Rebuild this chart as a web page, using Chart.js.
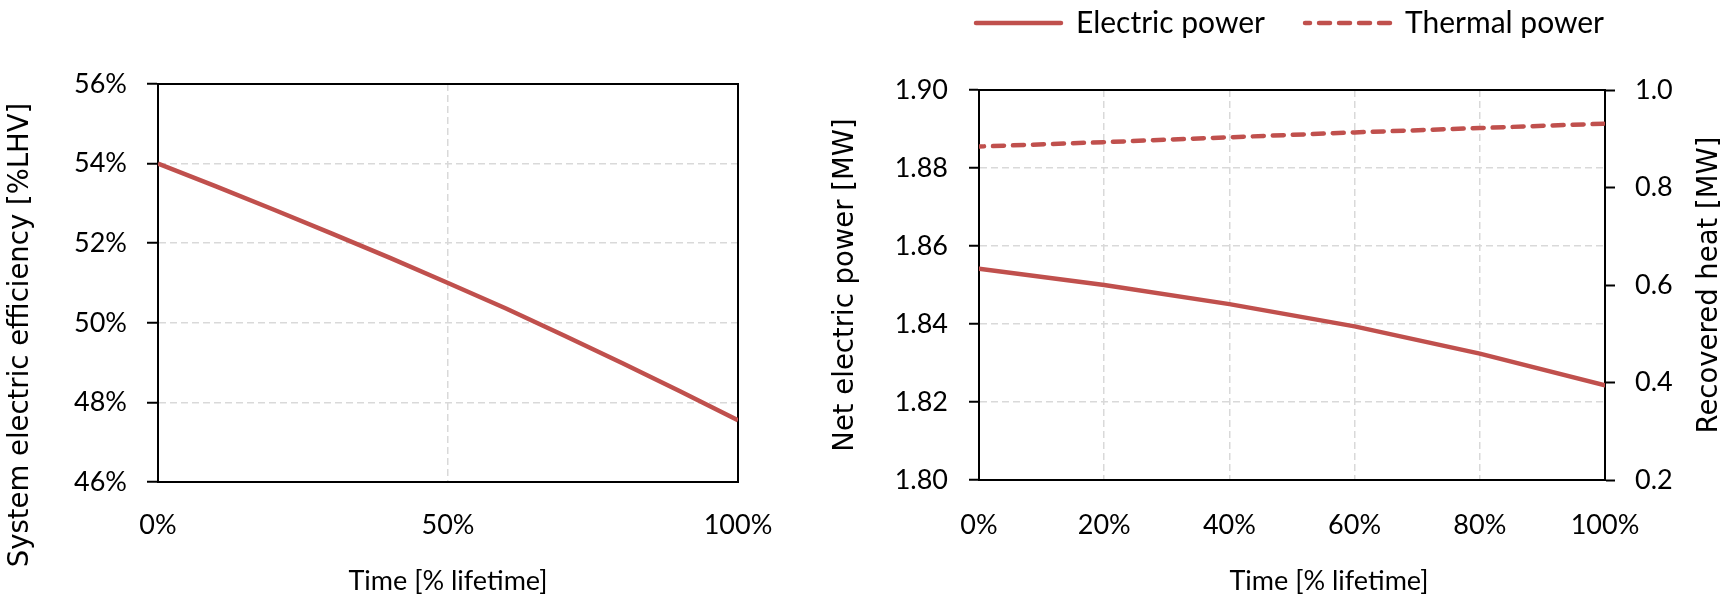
<!DOCTYPE html>
<html>
<head>
<meta charset="utf-8">
<script src="https://cdn.jsdelivr.net/npm/chart.js@4.4.0/dist/chart.umd.min.js"></script>
<style>
html, body { margin: 0; padding: 0; background: #fff; overflow: hidden; width: 1728px; height: 597px; }
#leftChart { position: absolute; left: 0; top: 0; }
#rightChart { position: absolute; left: 800px; top: 0; }
</style>
</head>
<body>
<canvas id="leftChart" width="800" height="597"></canvas>
<canvas id="rightChart" width="980" height="597"></canvas>
<script>
// left chart: efficiency over lifetime
var lifetimeLeft = [0, 10, 20, 30, 40, 50, 60, 70, 80, 90, 100];
var efficiency = [54.0, 53.43, 52.84, 52.24, 51.63, 51.0, 50.36, 49.68, 48.99, 48.28, 47.55];
var effTicks = [46, 48, 50, 52, 54, 56];
var leftTimeTicks = [0, 50, 100];

// right chart: power over lifetime
var lifetimeRight = [0, 20, 40, 60, 80, 100];
var electricPower = [1.8542, 1.8500, 1.8451, 1.8394, 1.8324, 1.8243];
var thermalPower = [0.884, 0.893, 0.903, 0.913, 0.922, 0.931];
var powerTicks = [1.80, 1.82, 1.84, 1.86, 1.88, 1.90];
var heatTicks = [0.2, 0.4, 0.6, 0.8, 1.0];
var rightTimeTicks = [0, 20, 40, 60, 80, 100];
var seriesNames = ['Electric power', 'Thermal power'];

var red = '#C0504D';
var gridColor = '#d9d9d9';
var tickFont = { family: 'Lato', size: 27 };
var legendFont = { family: 'Lato', size: 30 };
var titleFont = { family: 'DejaVu Sans', size: 27.5 };
Chart.defaults.color = '#000';

function useTicks(list) {
  return function (s) { s.ticks = list.map(function (v) { return { value: v }; }); };
}
function points(xs, ys) {
  return xs.map(function (x, i) { return { x: x, y: ys[i] }; });
}

var frame = {
  id: 'frame',
  beforeDatasetsDraw: function (chart) {
    var a = chart.chartArea, ctx = chart.ctx;
    ctx.save();
    ctx.strokeStyle = '#000';
    ctx.lineWidth = 2;
    ctx.strokeRect(a.left, a.top, a.right - a.left, a.bottom - a.top);
    ctx.restore();
  }
};

// rotated titles read bottom to top on both sides, as in the source
function sideTitle(ctx, text, x, y) {
  ctx.save();
  ctx.translate(x, y);
  ctx.rotate(-Math.PI / 2);
  ctx.font = '27.5px "DejaVu Sans"';
  ctx.fillStyle = '#000';
  ctx.textAlign = 'center';
  ctx.textBaseline = 'middle';
  ctx.fillText(text, 0, 0);
  ctx.restore();
}

var leftYTitle = {
  id: 'leftYTitle',
  afterDraw: function (chart) {
    var a = chart.chartArea;
    sideTitle(chart.ctx, 'System electric efficiency [%LHV]', 20.5, (a.top + a.bottom) / 2 + 52);
  }
};

new Chart(document.getElementById('leftChart'), {
  type: 'line',
  data: {
    datasets: [{
      data: points(lifetimeLeft, efficiency),
      borderColor: red,
      borderWidth: 4.5,
      pointRadius: 0,
      fill: false
    }]
  },
  options: {
    responsive: false,
    animation: false,
    layout: { padding: { left: 0, right: 62, top: 84, bottom: 0 } },
    plugins: { legend: { display: false }, tooltip: { enabled: false } },
    scales: {
      x: {
        type: 'linear', min: 0, max: 100,
        afterBuildTicks: useTicks(leftTimeTicks),
        grid: { color: gridColor, lineWidth: 1.5, drawTicks: false },
        border: { color: '#000', width: 2, dash: [7, 4] },
        ticks: { font: tickFont, padding: 27, callback: function (v) { return v + '%'; } },
        title: { display: true, text: 'Time [% lifetime]', font: tickFont, padding: { top: 0, bottom: 0 } },
        afterFit: function (s) { s.height = 115; }
      },
      y: {
        min: 46, max: 56,
        afterBuildTicks: useTicks(effTicks),
        grid: { color: gridColor, lineWidth: 1.5, tickLength: 11, tickColor: '#000', tickWidth: 2 },
        border: { color: '#000', width: 2, dash: [7, 4] },
        ticks: { font: tickFont, padding: 20, callback: function (v) { return v + '%'; } },
        afterFit: function (s) { s.width = 158; }
      }
    }
  },
  plugins: [frame, leftYTitle]
});

var padTop = -32;
var rightTitles = {
  id: 'rightTitles',
  afterDraw: function (chart) {
    var a = chart.chartArea, ctx = chart.ctx;
    ctx.save();
    ctx.font = '27px Lato';
    ctx.fillStyle = '#000';
    ctx.textAlign = 'center';
    ctx.textBaseline = 'middle';
    ctx.fillText('Time [% lifetime]', (a.left + a.right) / 2 + 37, chart.height - 16.2);
    ctx.restore();
    sideTitle(ctx, 'Recovered heat [MW]', a.right + 105, (a.top + a.bottom) / 2);
  }
};

new Chart(document.getElementById('rightChart'), {
  type: 'line',
  data: {
    datasets: [{
      label: seriesNames[0],
      data: points(lifetimeRight, electricPower),
      yAxisID: 'y',
      borderColor: red,
      backgroundColor: red,
      borderWidth: 4.5,
      borderCapStyle: 'round',
      pointRadius: 0,
      fill: false
    }, {
      label: seriesNames[1],
      data: points(lifetimeRight, thermalPower),
      yAxisID: 'y1',
      borderColor: red,
      backgroundColor: red,
      borderWidth: 4.5,
      borderDash: [11, 9],
      borderDashOffset: 6,
      borderCapStyle: 'round',
      pointRadius: 0,
      fill: false
    }]
  },
  options: {
    responsive: false,
    animation: false,
    layout: { padding: { left: 0, right: 0, top: padTop, bottom: 0 } },
    plugins: {
      tooltip: { enabled: false },
      legend: {
        display: true,
        position: 'top',
        labels: {
          usePointStyle: true, pointStyle: 'line', pointStyleWidth: 85,
          font: legendFont, color: '#000', padding: 40,
          generateLabels: function (chart) {
            var items = Chart.defaults.plugins.legend.labels.generateLabels(chart);
            items.forEach(function (it) {
              var ds = chart.data.datasets[it.datasetIndex];
              it.lineDash = ds.borderDash || [];
              it.lineDashOffset = ds.borderDashOffset || 0;
              it.lineCap = 'round';
              it.lineWidth = ds.borderWidth;
              it.strokeStyle = ds.borderColor;
            });
            return items;
          }
        }
      }
    },
    scales: {
      x: {
        type: 'linear', position: 'bottom', min: 0, max: 100,
        afterBuildTicks: useTicks(rightTimeTicks),
        grid: { color: gridColor, lineWidth: 1.5, drawTicks: false },
        border: { color: '#000', width: 2, dash: [7, 4] },
        ticks: { font: tickFont, padding: 29, callback: function (v) { return v + '%'; } },
        afterFit: function (s) { s.height = 117; }
      },
      xTop: {
        type: 'linear', position: 'top', min: 0, max: 100,
        grid: { display: false },
        ticks: { display: false },
        border: { color: '#000', width: 2 },
        afterFit: function (s) { s.height = 90 - (padTop + s.chart.legend.height); }
      },
      y: {
        position: 'left', min: 1.80, max: 1.90,
        afterBuildTicks: useTicks(powerTicks),
        grid: { color: gridColor, lineWidth: 1.5, tickLength: 10, tickColor: '#000', tickWidth: 2 },
        border: { color: '#000', width: 2, dash: [7, 4] },
        ticks: { font: tickFont, padding: 21, callback: function (v) { return v.toFixed(2); } },
        title: { display: true, text: 'Net electric power [MW]', font: titleFont, padding: { top: 29, bottom: 0 } },
        afterFit: function (s) { s.width = 179; }
      },
      y1: {
        position: 'right', min: 0.2, max: 1.0,
        afterBuildTicks: useTicks(heatTicks),
        grid: { drawOnChartArea: false, tickLength: 10, tickColor: '#000', tickWidth: 2 },
        border: { color: '#000', width: 2 },
        ticks: { font: tickFont, padding: 20, callback: function (v) { return v.toFixed(1); } },
        afterFit: function (s) { s.width = 175; }
      }
    }
  },
  plugins: [rightTitles]
});
</script>
</body>
</html>
